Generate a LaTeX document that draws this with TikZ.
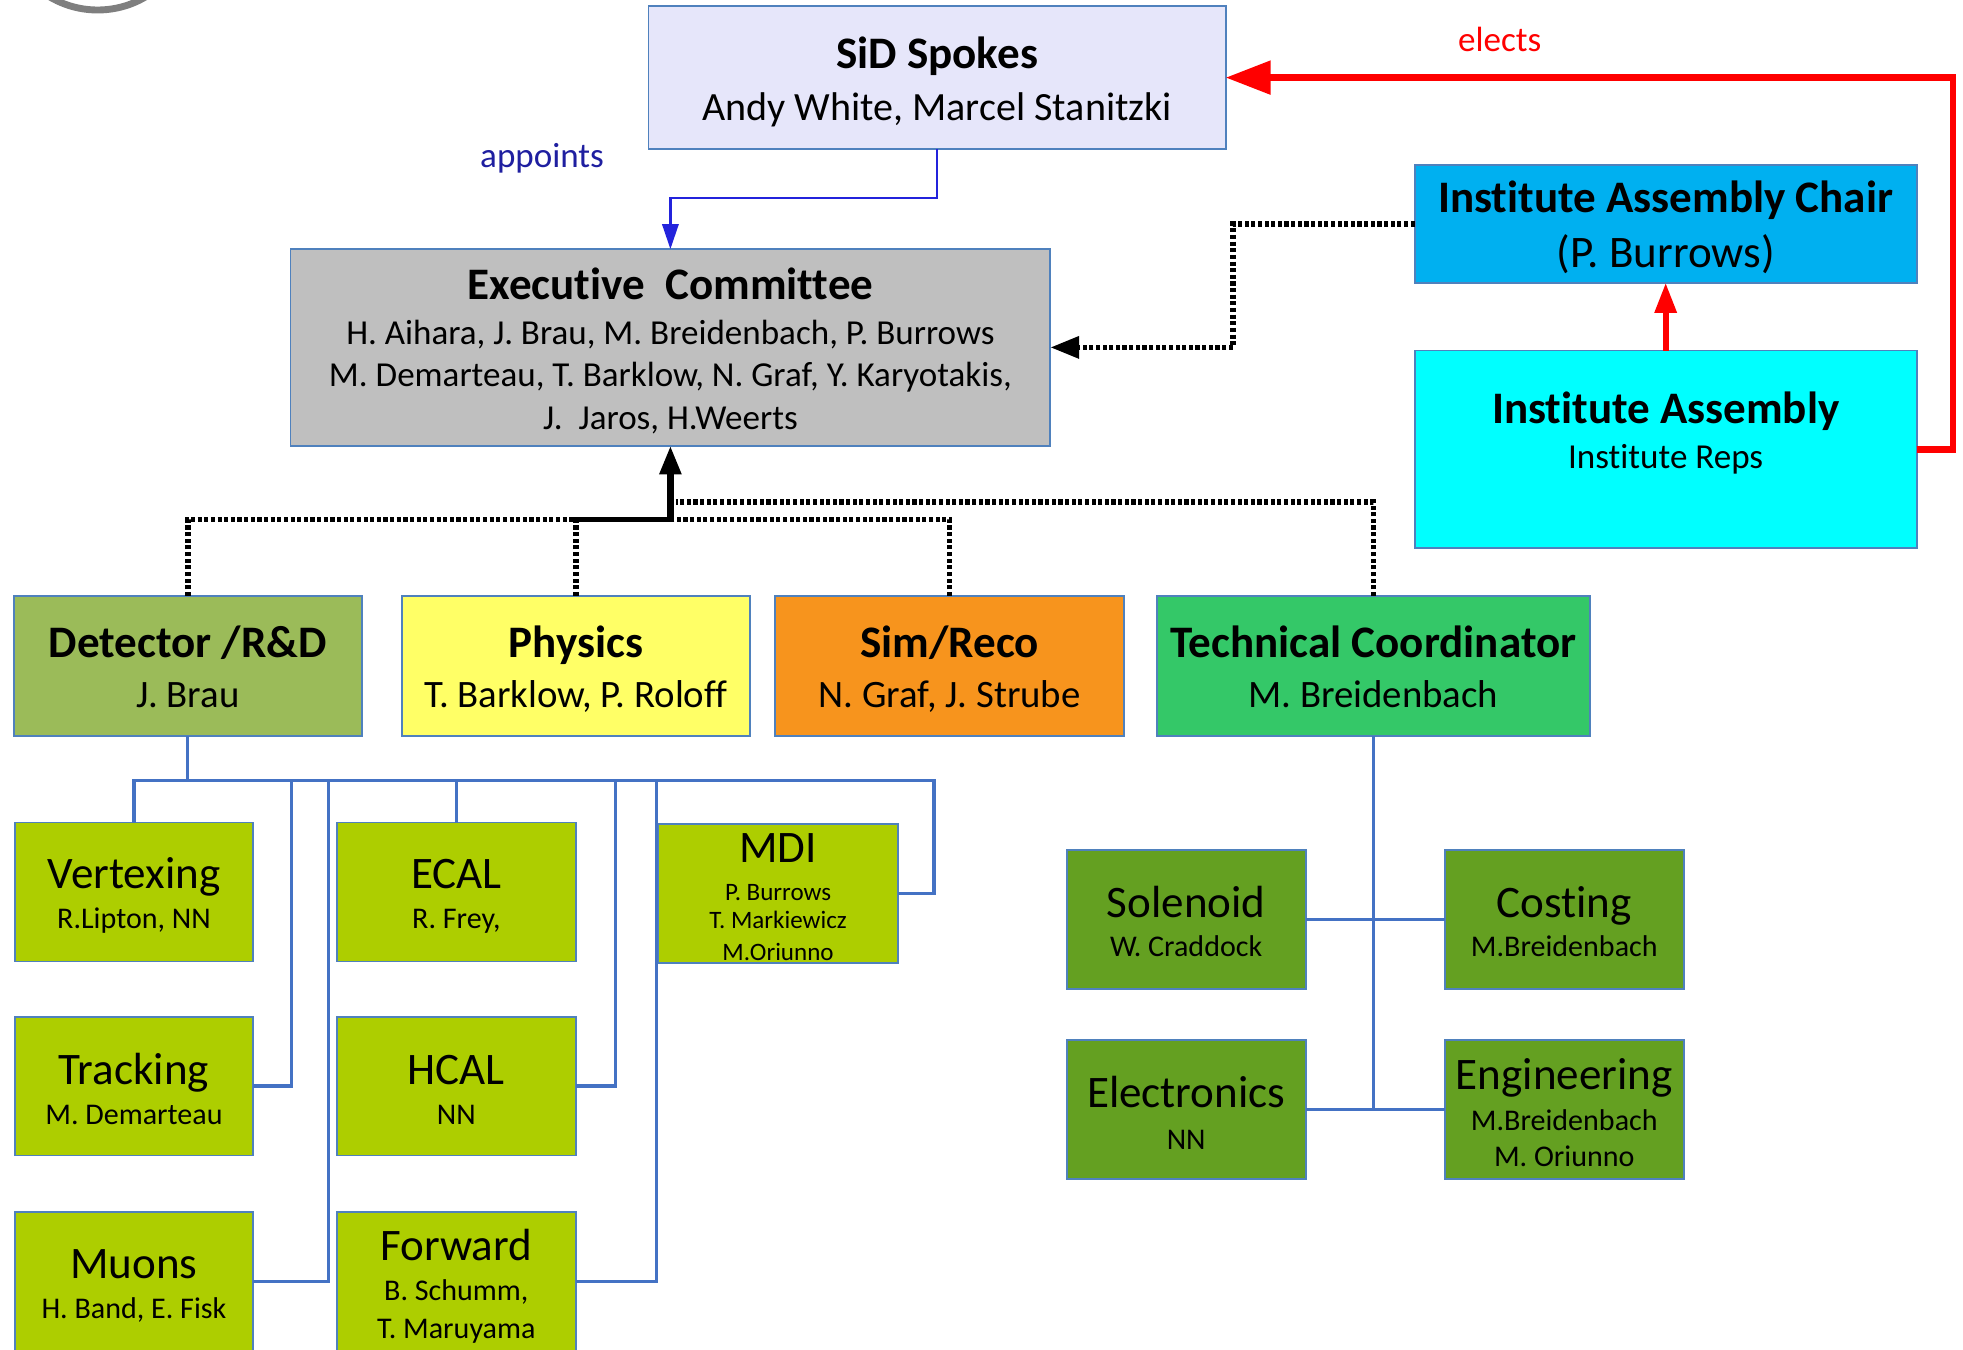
\documentclass[tikz,border=0pt]{standalone}
\usepackage{fontspec}
\setmainfont{Carlito}[Ligatures=NoCommon]
\usetikzlibrary{arrows.meta}
\definecolor{bord}{HTML}{4F81BD}
\definecolor{conncol}{HTML}{4472C4}
\definecolor{spokesfill}{HTML}{E6E6FA}
\definecolor{ecfill}{HTML}{BFBFBF}
\definecolor{iacfill}{HTML}{00B0F0}
\definecolor{iafill}{HTML}{00FFFF}
\definecolor{detfill}{HTML}{9BBB59}
\definecolor{physfill}{HTML}{FFFF66}
\definecolor{simfill}{HTML}{F7941D}
\definecolor{tcfill}{HTML}{34C868}
\definecolor{subfill}{HTML}{ADCE00}
\definecolor{tcsubfill}{HTML}{64A021}
\definecolor{appcol}{HTML}{2323DC}
\definecolor{apptext}{HTML}{1F1FA0}
\definecolor{electred}{HTML}{FF0000}
\definecolor{logogray}{HTML}{7F7F7F}
\begin{document}
\begin{tikzpicture}[x=1pt,y=-1pt,
  box/.style={draw=bord, line width=1.5pt, inner sep=0pt, outer sep=0pt},
  ttl/.style={font=\fontsize{36}{40}\selectfont\bfseries, anchor=base, inner sep=0pt},
  ttlr/.style={font=\fontsize{36}{40}\selectfont, anchor=base, inner sep=0pt},
  sub32/.style={font=\fontsize{31}{36}\selectfont, anchor=base, inner sep=0pt},
  sub28/.style={font=\fontsize{28}{32}\selectfont, anchor=base, inner sep=0pt},
  sub24/.style={font=\fontsize{24}{28}\selectfont, anchor=base, inner sep=0pt},
  sub20/.style={font=\fontsize{20}{24}\selectfont, anchor=base, inner sep=0pt},
  conn/.style={draw=conncol, line width=2.5pt},
  dotl/.style={draw=black, line width=4.5pt, dash pattern=on 3.3pt off 2pt},
]
\useasboundingbox (0,0) rectangle (1568,1078);
\clip (0,0) rectangle (1568,1078);

% logo fragment
\draw[logogray, line width=5.5pt] (78,-67) circle[radius=75];

% boxes
\node[box, fill=spokesfill, minimum width=461pt, minimum height=114pt] (spokes) at (748.5,62) {};
\node[box, fill=ecfill, minimum width=607pt, minimum height=157pt] (ec) at (535.5,277.5) {};
\node[box, fill=iacfill, minimum width=401pt, minimum height=94pt] (iac) at (1330.5,179) {};
\node[box, fill=iafill, minimum width=401pt, minimum height=158pt] (ia) at (1330.5,359) {};
\node[box, fill=detfill, minimum width=278pt, minimum height=112pt] (det) at (150,532) {};
\node[box, fill=physfill, minimum width=278pt, minimum height=112pt] (phys) at (460,532) {};
\node[box, fill=simfill, minimum width=279pt, minimum height=112pt] (sim) at (758.5,532) {};
\node[box, fill=tcfill, minimum width=346pt, minimum height=112pt] (tc) at (1097,532) {};
\node[box, fill=subfill, minimum width=190pt, minimum height=111pt] (vtx) at (107,712.5) {};
\node[box, fill=subfill, minimum width=191pt, minimum height=111pt] (ecal) at (364.5,712.5) {};
\node[box, fill=subfill, minimum width=191pt, minimum height=111pt] (mdi) at (621.5,713.5) {};
\node[box, fill=subfill, minimum width=190pt, minimum height=111pt] (trk) at (107,867.5) {};
\node[box, fill=subfill, minimum width=191pt, minimum height=111pt] (hcal) at (364.5,867.5) {};
\node[box, fill=subfill, minimum width=190pt, minimum height=111pt] (muon) at (107,1023.5) {};
\node[box, fill=subfill, minimum width=191pt, minimum height=111pt] (fwd) at (364.5,1023.5) {};
\node[box, fill=tcsubfill, minimum width=191pt, minimum height=111pt] (sol) at (947.5,734.5) {};
\node[box, fill=tcsubfill, minimum width=191pt, minimum height=111pt] (cost) at (1249.5,734.5) {};
\node[box, fill=tcsubfill, minimum width=191pt, minimum height=111pt] (elec) at (947.5,886.5) {};
\node[box, fill=tcsubfill, minimum width=191pt, minimum height=111pt] (eng) at (1249.5,886.5) {};

% texts
\node[ttl] (spokesT) at (748.5,55) {SiD Spokes};
\node[sub32, font=\fontsize{32}{36}\selectfont] (spokesS) at (748.5,96) {Andy White, Marcel Stanitzki};
\node[ttl] (ecT) at (535.5,239) {Executive\ \ Committee};
\node[sub28] (ecS1) at (535.5,275) {H. Aihara, J. Brau, M. Breidenbach, P. Burrows};
\node[sub28] (ecS2) at (535.5,309) {M. Demarteau, T. Barklow, N. Graf, Y. Karyotakis,};
\node[sub28] (ecS3) at (535.5,343) {J.\ \ Jaros, H.Weerts};
\node[ttl] (iacT) at (1330.5,170) {Institute Assembly Chair};
\node[ttlr] (iacS) at (1330.5,214) {(P. Burrows)};
\node[ttl] (iaT) at (1330.5,338) {Institute Assembly};
\node[sub28] (iaS) at (1330.5,374) {Institute Reps};
\node[ttl] (detT) at (150,525) {Detector /R\&D};
\node[sub32] (detS) at (150,565) {J. Brau};
\node[ttl] (physT) at (460,525) {Physics};
\node[sub32] (physS) at (460,565) {T. Barklow, P. Roloff};
\node[ttl] (simT) at (758.5,525) {Sim/Reco};
\node[sub32] (simS) at (758.5,565) {N. Graf, J. Strube};
\node[ttl] (tcT) at (1097,525) {Technical Coordinator};
\node[sub32] (tcS) at (1097,565) {M. Breidenbach};
\node[ttlr] (vtxT) at (107,710) {Vertexing};
\node[sub24] (vtxS) at (107,742) {R.Lipton, NN};
\node[ttlr] (ecalT) at (364.5,710) {ECAL};
\node[sub24] (ecalS) at (364.5,742) {R. Frey,};
\node[ttlr] (mdiT) at (621.5,689) {MDI};
\node[sub20] (mdiS1) at (621.5,719) {P. Burrows};
\node[sub20] (mdiS2) at (621.5,742) {T. Markiewicz};
\node[sub20] (mdiS3) at (621.5,767) {M.Oriunno};
\node[ttlr] (trkT) at (107,866) {Tracking};
\node[sub24] (trkS) at (107,898) {M. Demarteau};
\node[ttlr] (hcalT) at (364.5,866) {HCAL};
\node[sub24] (hcalS) at (364.5,898) {NN};
\node[ttlr] (muonT) at (107,1021) {Muons};
\node[sub24] (muonS) at (107,1053) {H. Band, E. Fisk};
\node[ttlr] (fwdT) at (364.5,1007) {Forward};
\node[sub24] (fwdS1) at (364.5,1039) {B. Schumm,};
\node[sub24] (fwdS2) at (364.5,1069) {T. Maruyama};
\node[ttlr] (solT) at (947.5,733) {Solenoid};
\node[sub24] (solS) at (947.5,764) {W. Craddock};
\node[ttlr] (costT) at (1249.5,733) {Costing};
\node[sub24] (costS) at (1249.5,764) {M.Breidenbach};
\node[ttlr] (elecT) at (947.5,885) {Electronics};
\node[sub24] (elecS) at (947.5,918) {NN};
\node[ttlr] (engT) at (1249.5,870) {Engineering};
\node[sub24] (engS1) at (1249.5,903) {M.Breidenbach};
\node[sub24] (engS2) at (1249.5,932) {M. Oriunno};

% labels
\node[sub28, text=apptext] (appL) at (433,134) {appoints};
\node[sub28, text=electred] (elL) at (1198,41) {elects};

% appoints arrow
\coordinate (a1) at (535.5,158);
\draw[appcol, line width=2pt, -{Triangle[length=20pt,width=13pt]}] (spokes.south) |- (a1) -- (ec.north);

% elects arrow
\coordinate (e1) at (1560,62);
\draw[electred, line width=5.5pt, -{Triangle[length=36pt,width=26pt]}] (ia.east) -| (e1) -- (spokes.east);
\draw[electred, line width=4.5pt, -{Triangle[length=24pt,width=17pt]}] (ia.north) -- (iac.south);

% dotted from IAC to EC
\coordinate (d1) at (985,179);
\draw[dotl, -{Triangle[length=23pt,width=17pt]}] (iac.west) -- (d1) |- (ec.east);

% dotted bus to EC
\coordinate (j1) at (535.5,415);
\coordinate (j2) at (540,401);
\draw[dotl] (det.north) |- (j1);
\draw[dotl] (phys.north) |- (j1);
\draw[dotl] (sim.north) |- (j1);
\draw[dotl] (tc.north) |- (j2);
\draw[black, line width=5.3pt, -{Triangle[length=23pt,width=16.5pt]}] (j1) -- (ec.south);

% detector sub connectors
\coordinate (b1) at (150,623.5);
\coordinate (m1) at (746,713.5);
\coordinate (t1) at (232.5,867.5);
\coordinate (t2) at (262.5,1023.5);
\coordinate (h1) at (491.5,867.5);
\coordinate (h2) at (524.5,1023.5);
\draw[conn] (det.south) -- (b1) -| (vtx.north);
\draw[conn] (b1) -| (ecal.north);
\draw[conn] (b1) -| (m1) -- (mdi.east);
\draw[conn] (b1) -| (t1) -- (trk.east);
\draw[conn] (b1) -| (t2) -- (muon.east);
\draw[conn] (b1) -| (h1) -- (hcal.east);
\draw[conn] (b1) -| (h2) -- (fwd.east);

% TC sub connectors
\coordinate (c2) at (1097,886.5);
\draw[conn] (tc.south) -- (c2);
\draw[conn] (sol.east) -- (cost.west);
\draw[conn] (elec.east) -- (eng.west);
\end{tikzpicture}
\end{document}
